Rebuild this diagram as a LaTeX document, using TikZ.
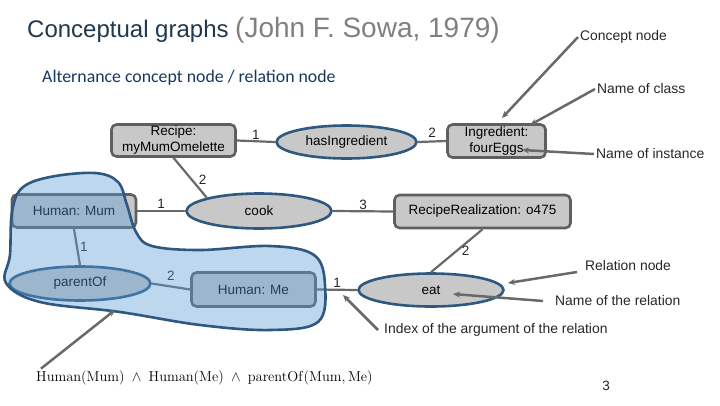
\documentclass[tikz,border=0pt]{standalone}
\usepackage[no-math]{fontspec}
\setmainfont{Liberation Sans}
\newfontfamily\calfont{Carlito}
\usetikzlibrary{arrows.meta,shapes.geometric}
\definecolor{titlenavy}{RGB}{31,56,77}
\definecolor{subnavy}{RGB}{23,55,94}
\definecolor{conceptfill}{RGB}{200,200,200}
\definecolor{conceptline}{RGB}{95,95,95}
\definecolor{relline}{RGB}{46,88,128}
\definecolor{blobfill}{RGB}{91,155,213}
\definecolor{linkgray}{RGB}{105,105,105}
\tikzset{
  concept/.style={rectangle,rounded corners=5pt,draw=conceptline,fill=conceptfill,line width=2.6pt,align=center,inner sep=0pt,font=\fontsize{13.5}{16}\selectfont},
  relation/.style={ellipse,draw=relline,fill=conceptfill,line width=2.6pt,inner sep=0pt,font=\fontsize{13.5}{16}\selectfont},
  link/.style={draw=linkgray,line width=2.2pt},
  argno/.style={font=\fontsize{13.5}{16}\selectfont,inner sep=1pt,text=black!85},
  note/.style={font=\fontsize{13.9}{16}\selectfont,inner sep=2pt,anchor=west,text=black!85},
  pointer/.style={draw=linkgray,line width=2.5pt,-{Stealth[length=7pt,width=6pt]}},
}

\begin{document}
\begin{tikzpicture}[x=1pt,y=-1pt]
  \useasboundingbox (0,0) rectangle (720,405);
  % title lines
  \node[anchor=base west,inner sep=0pt,text=titlenavy,font=\fontsize{24}{28}\selectfont] (title) at (27,37) {Conceptual graphs};
  \node[anchor=base west,inner sep=0pt,text=black!50,font=\fontsize{28}{32}\selectfont] (author) at (235,37) {(John F. Sowa, 1979)};
  \node[anchor=base west,inner sep=0pt,text=subnavy,font=\calfont\fontsize{17.8}{20}\selectfont] (subtitle) at (42,82) {Alternance concept node / relation node};
  % concept nodes
  \node[concept,minimum width=124pt,minimum height=32pt] (recipe) at (173.5,140.5) {Recipe:\\myMumOmelette};
  \node[concept,minimum width=98pt,minimum height=33pt] (ingr) at (496.5,141) {Ingredient:\\fourEggs};
  \node[concept,minimum width=124pt,minimum height=33pt] (mum) at (74,211) {Human: Mum};
  \node[concept,minimum width=176pt,minimum height=33pt] (real) at (482.5,211.5) {RecipeRealization: o475};
  \node[concept,minimum width=124pt,minimum height=34pt] (me) at (253.5,289.5) {Human: Me};
  % relation nodes
  \node[relation,minimum width=140pt,minimum height=33pt] (hasing) at (346.5,142) {hasIngredient};
  \node[relation,minimum width=145pt,minimum height=35pt] (cook) at (259,211) {cook};
  \node[relation,minimum width=141pt,minimum height=34pt] (parent) at (80,283.5) {parentOf};
  \node[relation,minimum width=145pt,minimum height=33pt] (eat) at (431,290) {eat};
  % arcs with argument indices
  \draw[link] (recipe.east) -- node[argno,above] {1} (hasing.west);
  \draw[link] (hasing.east) -- node[argno,above=2pt] {2} (ingr.west);
  \draw[link] (recipe.south) -- node[argno,pos=0.55,right=5pt] {2} (cook.north west);
  \draw[link] (mum.east) -- node[argno,above] {1} (cook.west);
  \draw[link] (cook.east) -- node[argno,above] {3} (real.west);
  \draw[link] (real.south) -- node[argno,pos=0.5,right=3pt] {2} (eat.north);
  \draw[link] (mum.south) -- node[argno,right=1pt] {1} (parent.north);
  \draw[link] (parent.east) -- node[argno,above=4pt] {2} (me.west);
  \draw[link] (me.east) -- node[argno,above] {1} (eat.west);
  % nested context
  \draw[draw=relline,line width=2.6pt,fill=blobfill,fill opacity=0.4]
    plot[smooth cycle,tension=0.6] coordinates {(12,212) (22,188) (50,177) (95,173) (118,182) (127,205) (136,232) (152,246) (200,250) (270,246) (314,255) (325,285) (318,322) (270,330) (200,325) (120,312) (40,302) (6,283) (10,255)};
  % annotations
  \node[note] (cnode) at (578,37) {Concept node};
  \node[note] (nclass) at (595,89) {Name of class};
  \node[note] (ninst) at (594,154) {Name of instance};
  \node[note] (rnode) at (583,266) {Relation node};
  \node[note] (nrel) at (553,301) {Name of the relation};
  \node[note] (nidx) at (382,330) {Index of the argument of the relation};
  \node[anchor=west,inner sep=2pt,font=\fontsize{14}{17}\selectfont] (formula) at (34,378)
    {$\mathrm{Human(Mum)} \;\wedge\; \mathrm{Human(Me)} \;\wedge\; \mathrm{parentOf}(\mathrm{Mum},\mathrm{Me})$};
  \node[argno] (pageno) at (606,386) {3};
  \coordinate (tipconcept) at (502,118);
  \coordinate (tipclass) at (530,125);
  \coordinate (tipinst) at (522,150);
  \coordinate (tiprel) at (508,283);
  \coordinate (tipname) at (453,294);
  \coordinate (tipidx) at (343,295);
  \coordinate (tipctx) at (115,310);
  \draw[pointer] (cnode.west) -- (tipconcept);
  \draw[pointer] (nclass.west) -- (tipclass);
  \draw[pointer] (ninst.west) -- (tipinst);
  \draw[pointer] ([xshift=-6pt,yshift=-6pt]rnode.west) -- (tiprel);
  \draw[pointer] ([xshift=-10pt]nrel.west) -- (tipname);
  \draw[pointer] ([xshift=-4pt]nidx.west) -- (tipidx);
  \draw[pointer] ([xshift=7pt]formula.north west) -- (tipctx);
\end{tikzpicture}
\end{document}
